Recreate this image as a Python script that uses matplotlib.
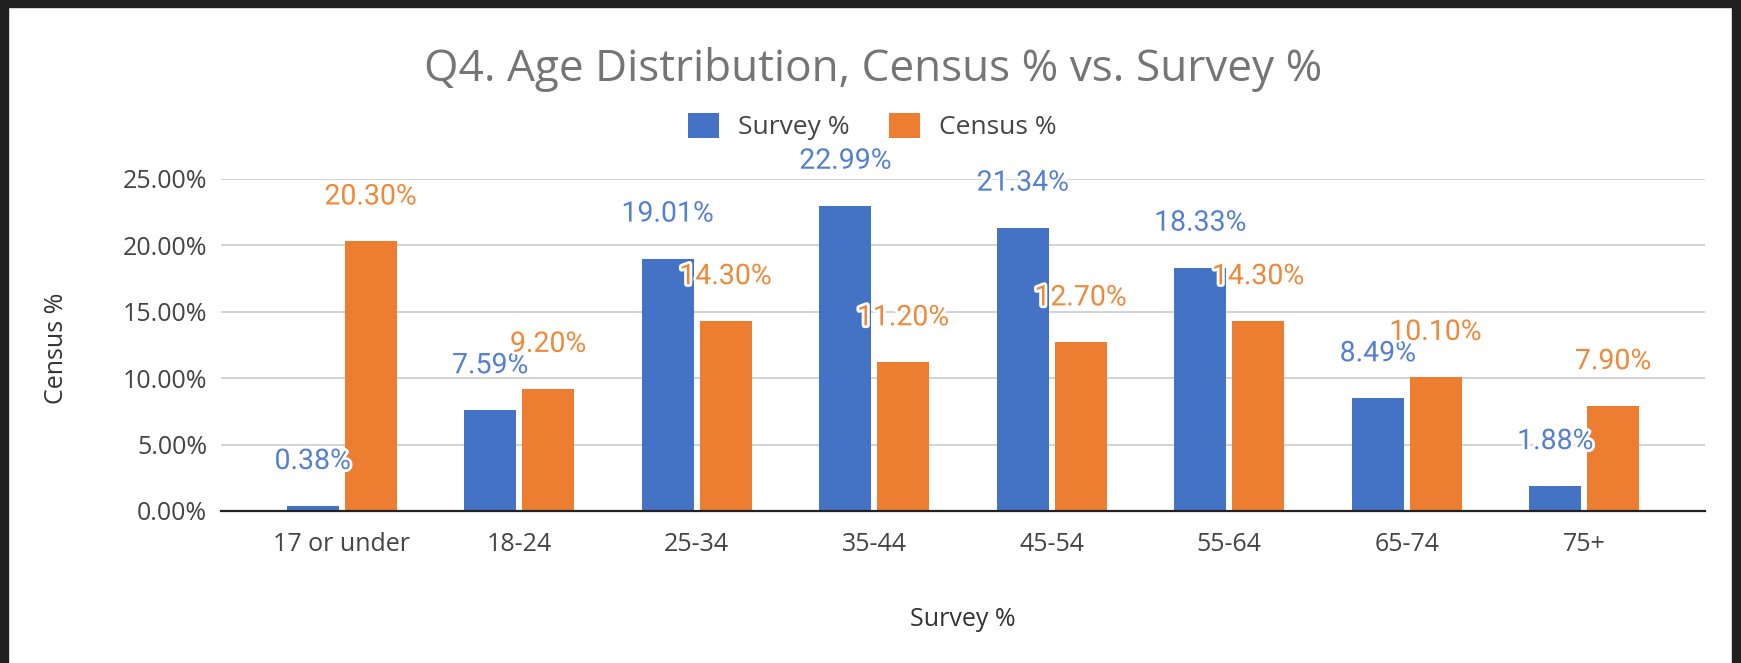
import matplotlib
matplotlib.use("Agg")
import matplotlib.pyplot as plt
import matplotlib.patheffects as pe
from matplotlib.patches import Rectangle
from matplotlib.ticker import FuncFormatter
import numpy as np

categories = ["17 or under", "18-24", "25-34", "35-44", "45-54", "55-64", "65-74", "75+"]
survey = [0.38, 7.59, 19.01, 22.99, 21.34, 18.33, 8.49, 1.88]
census = [20.30, 9.20, 14.30, 11.20, 12.70, 14.30, 10.10, 7.90]
yticks = [0, 5, 10, 15, 20, 25]

BLUE = "#4472C4"
ORANGE = "#ED7D31"
BLUE_LBL = "#5580D0"
ORANGE_LBL = "#F0883A"

W, H = 1741, 663
fig = plt.figure(figsize=(W / 100, H / 100), dpi=100)
fig.patch.set_facecolor("white")

ax = fig.add_axes([221 / W, 1 - 511 / H, (1705 - 221) / W, (511 - 179) / H])
x = np.arange(len(categories))
bw = 0.293
off = 0.163
b1 = ax.bar(x - off, survey, bw, color=BLUE, label="Survey %", zorder=3)
b2 = ax.bar(x + off, census, bw, color=ORANGE, label="Census %", zorder=3)

halo = [pe.withStroke(linewidth=4, foreground="white")]
for xi, v in zip(x, survey):
    ax.annotate(f"{v:.2f}%", (xi - off, v), xytext=(0, 32), textcoords="offset points",
                ha="center", va="center", fontsize=20.5, color=BLUE_LBL, family="Roboto",
                path_effects=halo, zorder=5)
for xi, v in zip(x, census):
    ax.annotate(f"{v:.2f}%", (xi + off, v), xytext=(0, 32), textcoords="offset points",
                ha="center", va="center", fontsize=20.5, color=ORANGE_LBL, family="Roboto",
                path_effects=halo, zorder=5)

ax.set_xlim(-0.68, 7.68)
ax.set_ylim(0, 25)
ax.set_yticks(yticks)
ax.yaxis.set_major_formatter(FuncFormatter(lambda v, p: f"{v:.2f}%"))
ax.set_xticks(x)
ax.set_xticklabels(categories)
ax.tick_params(axis="both", length=0, labelsize=18, labelcolor="#444444")
ax.tick_params(axis="y", pad=10)
ax.tick_params(axis="x", pad=15)
for lbl in ax.get_xticklabels() + ax.get_yticklabels():
    lbl.set_family("Open Sans")
ax.grid(axis="y", color="#cccccc", linewidth=1.2, zorder=0)
for s in ["top", "right", "left"]:
    ax.spines[s].set_visible(False)
ax.spines["bottom"].set_color("#222222")
ax.spines["bottom"].set_linewidth(1.6)
ax.spines["bottom"].set_zorder(4)

fig.text(963 / W, 1 - 619 / H, "Survey %", ha="center", va="center", fontsize=18,
         color="#333333", family="Open Sans")
fig.text(57 / W, 1 - 348 / H, "Census %", ha="center", va="center", rotation=90,
         fontsize=18, color="#333333", family="Open Sans")

fig.text(873 / W, 1 - 70 / H, "Q4. Age Distribution, Census % vs. Survey %", ha="center",
         va="center", fontsize=31.8, color="#757575", family="Open Sans")

leg = fig.legend(handles=[b1, b2], labels=["Survey %", "Census %"], loc="center",
                 bbox_to_anchor=(872.5 / W, 1 - 126.5 / H), ncol=2, frameon=False,
                 prop={"family": "Open Sans", "size": 19}, handlelength=1.17, handleheight=1.1,
                 columnspacing=1.48, handletextpad=0.72, borderpad=0, borderaxespad=0)
for t in leg.get_texts():
    t.set_color("#444444")

# dark frame around the screenshot
FR = "#202020"
fig.patches.append(Rectangle((0, 0), 8 / W, 1, transform=fig.transFigure, color=FR, zorder=10))
fig.patches.append(Rectangle((0, 1 - 7 / H), 1, 7 / H, transform=fig.transFigure, color=FR, zorder=10))
fig.patches.append(Rectangle((1 - 9 / W, 0), 9 / W, 1, transform=fig.transFigure, color=FR, zorder=10))

fig.savefig("out.png", dpi=100, facecolor="white")
